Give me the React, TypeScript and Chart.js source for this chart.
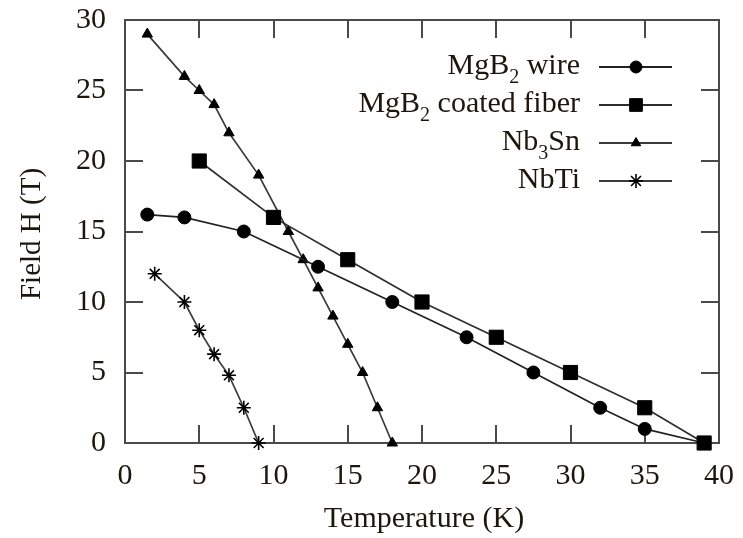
import React, { useEffect, useRef } from "react";
import { Chart, registerables } from "chart.js";
import { drawPoint } from "chart.js/helpers";

Chart.register(...registerables);

// ---- data ----
const wireT = [1.5, 4, 8, 13, 18, 23, 27.5, 32, 35, 39];
const wireH = [16.2, 16, 15, 12.5, 10, 7.5, 5, 2.5, 1, 0];
const fiberT = [5, 10, 15, 20, 25, 30, 35, 39];
const fiberH = [20, 16, 13, 10, 7.5, 5, 2.5, 0];
const nb3snT = [1.5, 4, 5, 6, 7, 9, 11, 12, 13, 14, 15, 16, 17, 18];
const nb3snH = [29, 26, 25, 24, 22, 19, 15, 13, 11, 9, 7, 5, 2.5, 0];
const nbtiT = [2, 4, 5, 6, 7, 8, 9];
const nbtiH = [12, 10, 8, 6.3, 4.8, 2.5, 0];

// legend labels as [text, isSubscript] segments
const legendWire: [string, boolean][] = [["MgB", false], ["2", true], [" wire", false]];
const legendFiber: [string, boolean][] = [["MgB", false], ["2", true], [" coated fiber", false]];
const legendNb3Sn: [string, boolean][] = [["Nb", false], ["3", true], ["Sn", false]];
const legendNbTi: [string, boolean][] = [["NbTi", false]];

const xTitle = "Temperature (K)";
const yTitle = "Field H (T)";
const xMin = 0, xMax = 40, xStep = 5;
const yMin = 0, yMax = 30, yStep = 5;

const FONT = "'Liberation Serif', 'Times New Roman', serif";
const TEXT = "#1e160c";
const AXIS = "#4a4a4a";

const toPts = (xs: number[], ys: number[]) => xs.map((x, i) => ({ x, y: ys[i] }));

function drawFrame(chart: any) {
  const ctx = chart.ctx;
  const area = chart.chartArea;
  const left = area.left, right = area.right, top = area.top, bottom = area.bottom;
  const sx = chart.scales["x"];
  const sy = chart.scales["y"];
  const tl = 18;
  ctx.save();
  ctx.strokeStyle = AXIS;
  ctx.lineWidth = 2;
  ctx.setLineDash([]);
  sx.ticks.forEach((t: any) => {
    const v = t.value;
    if (v <= xMin || v >= xMax) return;
    const px = Math.round(sx.getPixelForValue(v));
    ctx.beginPath();
    ctx.moveTo(px, bottom);
    ctx.lineTo(px, bottom - tl);
    ctx.moveTo(px, top);
    ctx.lineTo(px, top + tl);
    ctx.stroke();
  });
  sy.ticks.forEach((t: any) => {
    const v = t.value;
    if (v <= yMin || v >= yMax) return;
    const py = Math.round(sy.getPixelForValue(v));
    ctx.beginPath();
    ctx.moveTo(left, py);
    ctx.lineTo(left + tl, py);
    ctx.moveTo(right, py);
    ctx.lineTo(right - tl, py);
    ctx.stroke();
  });
  ctx.strokeRect(left, top, right - left, bottom - top);
  ctx.restore();
}

const frameAndTicks = {
  id: "frameAndTicks",
  beforeDatasetsDraw(chart: any) {
    drawFrame(chart);
  },
};

const titlesAndLegend = {
  id: "titlesAndLegend",
  afterDraw(chart: any) {
    const { ctx, chartArea } = chart;
    const { left, right, top, bottom } = chartArea;
    ctx.save();
    ctx.fillStyle = TEXT;
    ctx.font = `30px ${FONT}`;
    ctx.textAlign = "center";
    ctx.textBaseline = "alphabetic";
    ctx.fillText(xTitle, (left + right) / 2 + 2, 527);
    ctx.save();
    ctx.font = `29px ${FONT}`;
    ctx.translate(40, 234);
    ctx.rotate(-Math.PI / 2);
    ctx.fillText(yTitle, 0, 0);
    ctx.restore();

    // legend
    const rowY0 = 67, rowDy = 38;
    const textRight = 580;
    const lineX0 = 599, lineX1 = 672, markX = 636;
    chart.data.datasets.forEach((ds: any, i: number) => {
      const cy = rowY0 + i * rowDy;
      const segs: [string, boolean][] = ds.legendSegs;
      let total = 0;
      const widths = segs.map(([t, sub]) => {
        ctx.font = sub ? `20px ${FONT}` : `30px ${FONT}`;
        const w = ctx.measureText(t).width;
        total += w;
        return w;
      });
      let x = textRight - total;
      ctx.textAlign = "left";
      ctx.fillStyle = TEXT;
      segs.forEach(([t, sub], k) => {
        ctx.font = sub ? `20px ${FONT}` : `30px ${FONT}`;
        ctx.fillText(t, x, cy + 7 + (sub ? 9 : 0));
        x += widths[k];
      });
      ctx.strokeStyle = ds.borderColor;
      ctx.lineWidth = 1.8;
      ctx.beginPath();
      ctx.moveTo(lineX0, cy);
      ctx.lineTo(lineX1, cy);
      ctx.stroke();
      ctx.fillStyle = "#000";
      ctx.strokeStyle = "#000";
      ctx.lineWidth = ds.pointBorderWidth;
      drawPoint(ctx, { pointStyle: ds.pointStyle, radius: ds.legendRadius, borderWidth: ds.pointBorderWidth, rotation: 0 }, markX, cy);
    });
    ctx.restore();
  },
};

export default function App() {
  const ref = useRef<HTMLCanvasElement | null>(null);
  useEffect(() => {
    if (!ref.current) return;
    const chart = new Chart(ref.current, {
      type: "scatter",
      data: {
        datasets: [
          {
            label: "MgB2 wire",
            data: toPts(wireT, wireH),
            showLine: true,
            borderColor: "#222",
            borderWidth: 1.7,
            pointStyle: "circle",
            pointRadius: 6.5,
            pointBackgroundColor: "#000",
            pointBorderColor: "#000",
            pointBorderWidth: 1,
            clip: false,
            legendSegs: legendWire,
            legendRadius: 6,
          } as any,
          {
            label: "MgB2 coated fiber",
            data: toPts(fiberT, fiberH),
            showLine: true,
            borderColor: "#2e2e2e",
            borderWidth: 1.7,
            pointStyle: "rect",
            pointRadius: 10,
            pointBackgroundColor: "#000",
            pointBorderColor: "#000",
            pointBorderWidth: 1,
            clip: false,
            legendSegs: legendFiber,
            legendRadius: 9,
          } as any,
          {
            label: "Nb3Sn",
            data: toPts(nb3snT, nb3snH),
            showLine: true,
            borderColor: "#3a3a3a",
            borderWidth: 1.7,
            pointStyle: "triangle",
            pointRadius: 6,
            pointBackgroundColor: "#000",
            pointBorderColor: "#000",
            pointBorderWidth: 1,
            clip: false,
            legendSegs: legendNb3Sn,
            legendRadius: 5.5,
          } as any,
          {
            label: "NbTi",
            data: toPts(nbtiT, nbtiH),
            showLine: true,
            borderColor: "#3a3a3a",
            borderWidth: 1.7,
            pointStyle: "star",
            pointRadius: 7,
            pointBackgroundColor: "#000",
            pointBorderColor: "#000",
            pointBorderWidth: 1.6,
            clip: false,
            legendSegs: legendNbTi,
            legendRadius: 7,
          } as any,
        ],
      },
      options: {
        animation: false,
        responsive: false,
        events: [],
        layout: { padding: { top: 20, right: 24, left: 0, bottom: 0 } },
        plugins: { legend: { display: false }, tooltip: { enabled: false } },
        scales: {
          x: {
            type: "linear",
            min: xMin,
            max: xMax,
            grid: { display: false, drawTicks: true, tickLength: 15 },
            border: { display: false },
            ticks: {
              stepSize: xStep,
              padding: 0,
              color: TEXT,
              font: { family: FONT, size: 30 },
              maxRotation: 0,
            },
            afterFit: (s: any) => { s.height = 95; },
          },
          y: {
            type: "linear",
            min: yMin,
            max: yMax,
            grid: { display: false, drawTicks: true, tickLength: 19 },
            border: { display: false },
            ticks: {
              stepSize: yStep,
              padding: 0,
              color: TEXT,
              font: { family: FONT, size: 30 },
            },
            afterFit: (s: any) => { s.width = 125; },
          },
        },
      } as any,
      plugins: [frameAndTicks, titlesAndLegend],
    });
    return () => chart.destroy();
  }, []);
  return (
    <div style={{ position: "fixed", left: 0, top: 0, width: 743, height: 538, background: "#fff" }}>
      <canvas ref={ref} width={743} height={538} />
    </div>
  );
}
